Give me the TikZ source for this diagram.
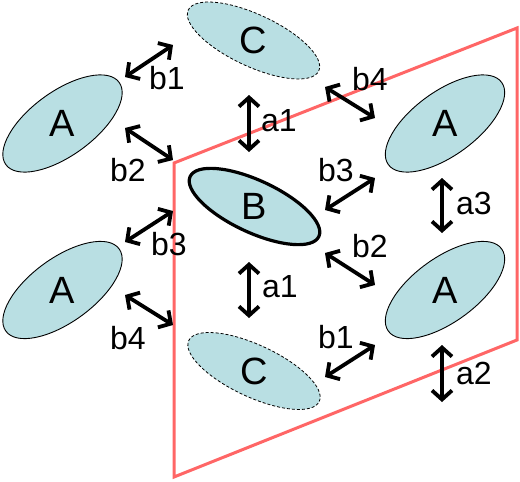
\documentclass[tikz,border=0pt]{standalone}
\usepackage{fontspec}
\setmainfont{Liberation Sans}
\usetikzlibrary{shapes.geometric,arrows.meta}
\definecolor{cellfill}{RGB}{185,223,227}
\definecolor{planered}{RGB}{255,102,102}
\tikzset{
  ellbase/.style={ellipse, fill=cellfill, inner sep=0pt, font=\fontsize{38}{40}\selectfont},
  ellA/.style={ellbase, draw=black, line width=0.9pt, minimum width=140pt, minimum height=64pt, rotate=36},
  ellB/.style={ellbase, draw=black, line width=3.2pt, minimum width=142pt, minimum height=52pt, rotate=-25},
  ellC/.style={ellbase, draw=black, line width=0.8pt, dash pattern=on 3pt off 2pt, minimum width=144pt, minimum height=52pt, rotate=-25},
  dblarrow/.style={line width=3.8pt, {Straight Barb[length=9pt,width=20pt]}-{Straight Barb[length=9pt,width=20pt]}},
  lbl/.style={inner sep=0pt, font=\fontsize{32}{34}\selectfont},
  plane/.style={draw=planered, line width=3pt, line join=miter}
}
\begin{document}
\begin{tikzpicture}[x=1pt,y=-1pt]
\useasboundingbox (0,0) rectangle (520,482);
% plane
\coordinate (P1) at (174,163);
\coordinate (P2) at (517,28);
\coordinate (P3) at (517,340);
\coordinate (P4) at (174,477);
\draw[plane] (P1) -- (P2) -- (P3) -- (P4) -- cycle;
% ellipses
\node[ellA] (AL1) at (62.5,123.5) {\rotatebox{-36}{A}};
\node[ellA] (AL2) at (62.5,290) {\rotatebox{-36}{A}};
\node[ellA] (AR1) at (445,123.5) {\rotatebox{-36}{A}};
\node[ellA] (AR2) at (445,290) {\rotatebox{-36}{A}};
\node[ellC] (C1) at (253.5,40.5) {\rotatebox{25}{C}};
\node[ellC] (C2) at (254,371) {\rotatebox{25}{C}};
\node[ellB] (B) at (254.5,206.5) {\rotatebox{25}{B}};
% arrow end points
\coordinate (e1a) at (125,77);  \coordinate (e1b) at (173,45);
\coordinate (e2a) at (125,128); \coordinate (e2b) at (173,160);
\coordinate (e3a) at (125,242); \coordinate (e3b) at (173,211);
\coordinate (e4a) at (125,295); \coordinate (e4b) at (173,325);
\coordinate (e5a) at (249,95);  \coordinate (e5b) at (249,152);
\coordinate (e6a) at (249,262); \coordinate (e6b) at (249,318);
\coordinate (e7a) at (325,87);  \coordinate (e7b) at (375,118);
\coordinate (e8a) at (325,210); \coordinate (e8b) at (375,178);
\coordinate (e9a) at (325,253); \coordinate (e9b) at (375,285);
\coordinate (e10a) at (325,377); \coordinate (e10b) at (375,345);
\coordinate (e11a) at (442,178); \coordinate (e11b) at (442,233);
\coordinate (e12a) at (442,345); \coordinate (e12b) at (442,402);
\foreach \i in {1,...,12} { \draw[dblarrow] (e\i a) -- (e\i b); }
% labels
\node[lbl] (l1) at (167,78) {b1};
\node[lbl] (l2) at (128,170) {b2};
\node[lbl] (l3) at (169,244) {b3};
\node[lbl] (l4) at (128,338) {b4};
\node[lbl] (l5) at (279,121) {a1};
\node[lbl] (l6) at (280,287) {a1};
\node[lbl] (l7) at (370,79) {b4};
\node[lbl] (l8) at (336,170) {b3};
\node[lbl] (l9) at (370,246) {b2};
\node[lbl] (l10) at (336,337) {b1};
\node[lbl] (l11) at (474,203) {a3};
\node[lbl] (l12) at (474,373) {a2};
\end{tikzpicture}
\end{document}
